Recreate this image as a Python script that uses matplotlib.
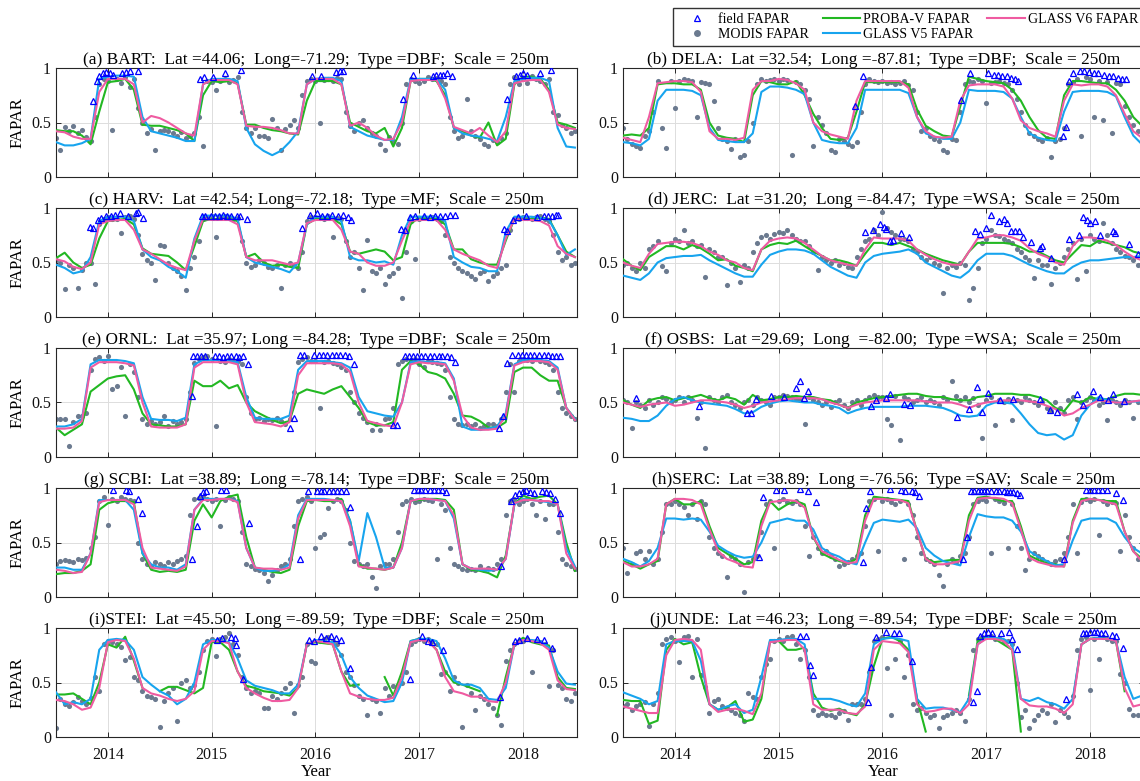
import numpy as np
import matplotlib.pyplot as plt
from matplotlib.lines import Line2D

nan = np.nan

# time axes (decimal year): lines monthly, MODIS half-monthly
line_t = 2013.5 + np.arange(61) / 12
modis_t = 2013.5 + np.arange(121) / 24

# ---------------- (a) BART ----------------
bart_green = [0.43, 0.42, 0.42, 0.38, 0.30, 0.60,
              0.87, 0.88, 0.90, 0.80, 0.48, 0.47, 0.47, 0.45, 0.43, 0.40, 0.33, 0.75,
              0.88, 0.87, 0.88, 0.86, 0.48, 0.48, 0.45, 0.43, 0.42, 0.40, 0.39, 0.70,
              0.88, 0.88, 0.88, 0.85, 0.50, 0.46, 0.42, 0.40, 0.45, 0.28, 0.45, 0.88,
              0.90, 0.90, 0.88, 0.75, 0.45, 0.42, 0.38, 0.36, 0.50, 0.29, 0.35, 0.85,
              0.92, 0.92, 0.90, 0.80, 0.50, 0.48, 0.45]
bart_v5 = [0.32, 0.29, 0.29, 0.31, 0.35, 0.90,
           0.92, 0.93, 0.93, 0.92, 0.55, 0.42, 0.40, 0.38, 0.36, 0.33, 0.33, 0.85,
           0.90, 0.90, 0.90, 0.88, 0.45, 0.30, 0.24, 0.20, 0.24, 0.32, 0.42, 0.85,
           0.90, 0.91, 0.91, 0.88, 0.46, 0.42, 0.38, 0.36, 0.34, 0.34, 0.55, 0.90,
           0.90, 0.90, 0.90, 0.80, 0.45, 0.40, 0.38, 0.37, 0.35, 0.33, 0.55, 0.88,
           0.90, 0.91, 0.91, 0.88, 0.45, 0.28, 0.27]
bart_v6 = [0.42, 0.41, 0.37, 0.35, 0.35, 0.78,
           0.90, 0.90, 0.90, 0.85, 0.50, 0.56, 0.54, 0.50, 0.45, 0.40, 0.38, 0.85,
           0.89, 0.89, 0.89, 0.85, 0.47, 0.46, 0.46, 0.45, 0.43, 0.40, 0.40, 0.85,
           0.90, 0.90, 0.90, 0.85, 0.47, 0.50, 0.45, 0.38, 0.34, 0.35, 0.50, 0.88,
           0.89, 0.89, 0.89, 0.72, 0.46, 0.43, 0.40, 0.45, 0.38, 0.32, 0.42, 0.86,
           0.88, 0.89, 0.89, 0.78, 0.48, 0.45, 0.44]
bart_modis = [0.36, 0.25, 0.46, 0.42, 0.47, 0.40, 0.43, 0.37, 0.33, 0.55, 0.85, 0.90,
              0.88, 0.43, 0.90, 0.86, 0.92, 0.83, 0.90, 0.63, 0.50, 0.40, 0.44, 0.25,
              0.42, 0.43, 0.42, 0.40, 0.38, 0.41, 0.36, 0.38, 0.40, 0.55, 0.28, 0.88,
              0.87, 0.80, 0.88, 0.90, 0.87, 0.89, 0.92, 0.60, 0.45, 0.40, 0.45, 0.38,
              0.38, 0.36, 0.53, 0.45, 0.25, 0.44, 0.48, 0.52, 0.45, 0.75, 0.88, 0.90,
              0.88, 0.50, 0.89, 0.90, 0.88, 0.91, 0.90, 0.60, 0.47, 0.42, 0.50, 0.52,
              0.45, 0.40, 0.38, 0.30, 0.25, 0.37, 0.33, 0.30, 0.50, 0.85, 0.90, 0.88,
              0.86, 0.88, 0.92, 0.90, 0.91, 0.88, 0.85, 0.55, 0.42, 0.36, 0.38, 0.72,
              0.42, 0.38, 0.35, 0.30, 0.28, 0.34, 0.32, 0.36, 0.40, 0.85, 0.92, 0.85,
              0.90, 0.86, 0.93, 0.90, 0.88, 0.85, 0.90, 0.60, 0.57, 0.48, 0.45, 0.40,
              0.42]
bart_field = [(2013.86, 0.70), (2013.895, 0.88), (2013.91, 0.93), (2013.95, 0.95), (2013.98, 0.96),
              (2014.02, 0.95), (2014.05, 0.94), (2014.14, 0.95), (2014.175, 0.96), (2014.21, 0.97),
              (2014.29, 0.97), (2014.89, 0.90), (2014.93, 0.92), (2015.01, 0.92), (2015.13, 0.95),
              (2015.28, 0.98), (2015.97, 0.93), (2016.05, 0.93), (2016.20, 0.96), (2016.24, 0.97),
              (2016.27, 0.97), (2016.84, 0.72), (2016.94, 0.94), (2017.13, 0.93), (2017.16, 0.94),
              (2017.20, 0.94), (2017.23, 0.94), (2017.27, 0.95), (2017.32, 0.93), (2017.85, 0.72),
              (2017.93, 0.93), (2017.97, 0.94), (2018.00, 0.95), (2018.04, 0.94), (2018.16, 0.95),
              (2018.27, 0.98)]

# ---------------- (b) DELA ----------------
dela_green = [0.38, 0.39, 0.38, 0.45, 0.85, 0.86,
              0.86, 0.85, 0.85, 0.80, 0.50, 0.38, 0.36, 0.35, 0.32, 0.75, 0.88, 0.87,
              0.85, 0.85, 0.88, 0.75, 0.58, 0.45, 0.35, 0.34, 0.36, 0.60, 0.87, 0.87,
              0.87, 0.87, 0.87, 0.85, 0.62, 0.47, 0.42, 0.38, 0.37, 0.65, 0.92, 0.90,
              0.88, 0.87, 0.86, 0.80, 0.70, 0.55, 0.43, 0.36, 0.35, 0.75, 0.88, 0.88,
              0.87, 0.86, 0.86, 0.80, 0.70, 0.55, 0.47]
dela_v5 = [0.32, 0.31, 0.29, 0.35, 0.70, 0.80,
           0.80, 0.80, 0.79, 0.75, 0.45, 0.34, 0.33, 0.32, 0.32, 0.40, 0.78, 0.83,
           0.83, 0.82, 0.80, 0.76, 0.50, 0.34, 0.32, 0.31, 0.31, 0.45, 0.80, 0.80,
           0.80, 0.80, 0.80, 0.77, 0.55, 0.40, 0.37, 0.35, 0.35, 0.50, 0.80, 0.79,
           0.79, 0.79, 0.78, 0.72, 0.55, 0.40, 0.36, 0.34, 0.33, 0.60, 0.78, 0.79,
           0.79, 0.79, 0.78, 0.74, 0.55, 0.38, 0.30]
dela_v6 = [0.36, 0.34, 0.32, 0.55, 0.86, 0.87,
           0.88, 0.88, 0.87, 0.78, 0.42, 0.35, 0.35, 0.34, 0.36, 0.80, 0.88, 0.88,
           0.90, 0.89, 0.86, 0.80, 0.50, 0.42, 0.39, 0.37, 0.35, 0.70, 0.88, 0.88,
           0.88, 0.88, 0.88, 0.82, 0.55, 0.42, 0.37, 0.36, 0.37, 0.70, 0.84, 0.85,
           0.85, 0.85, 0.83, 0.72, 0.52, 0.45, 0.42, 0.40, 0.37, 0.70, 0.85, 0.84,
           0.85, 0.85, 0.83, 0.75, 0.58, 0.42, 0.36]
dela_modis = [0.45, 0.35, 0.30, 0.28, 0.27, 0.38, 0.42, 0.60, 0.88, 0.45, 0.27, 0.88,
              0.63, 0.88, 0.90, 0.89, 0.88, 0.55, 0.87, 0.86, 0.85, 0.70, 0.45, 0.35,
              0.33, 0.26, 0.35, 0.18, 0.20, 0.33, 0.50, 0.85, 0.90, 0.88, 0.89, 0.90,
              0.88, 0.90, 0.89, 0.20, 0.87, 0.85, 0.80, 0.72, 0.28, 0.55, 0.48, 0.40,
              0.25, 0.23, 0.35, 0.33, 0.30, 0.28, 0.32, 0.60, 0.85, 0.90, 0.88, 0.87,
              0.88, 0.86, 0.87, 0.85, 0.86, 0.88, 0.84, 0.80, 0.60, 0.42, 0.45, 0.38,
              0.35, 0.33, 0.25, 0.23, 0.35, 0.34, 0.60, 0.85, 0.88, 0.87, 0.90, 0.88,
              0.68, 0.86, 0.87, 0.88, 0.86, 0.85, 0.80, 0.72, 0.60, 0.48, 0.40, 0.38,
              0.35, 0.33, 0.36, 0.18, 0.33, 0.35, 0.45, 0.85, 0.87, 0.90, 0.38, 0.92,
              0.90, 0.55, 0.88, 0.52, 0.87, 0.40, 0.86, 0.85, 0.65, 0.55, 0.48, 0.42,
              0.35]
dela_field = [(2015.74, 0.65), (2015.81, 0.93), (2016.76, 0.71), (2016.84, 0.95), (2017.02, 0.95),
              (2017.07, 0.94), (2017.11, 0.94), (2017.15, 0.93), (2017.20, 0.93), (2017.24, 0.91),
              (2017.28, 0.90), (2017.31, 0.88), (2017.74, 0.38), (2017.77, 0.46), (2017.80, 0.88),
              (2017.84, 0.95), (2017.90, 0.97), (2017.94, 0.97), (2017.99, 0.96), (2018.04, 0.95),
              (2018.08, 0.95), (2018.13, 0.94), (2018.18, 0.93), (2018.22, 0.93), (2018.27, 0.91),
              (2018.31, 0.90), (2018.35, 0.90)]

# ---------------- (c) HARV ----------------
harv_green = [0.54, 0.59, 0.50, 0.45, 0.48, 0.72,
              0.88, 0.89, 0.90, 0.85, 0.63, 0.58, 0.57, 0.56, 0.50, 0.43, 0.65, 0.88,
              0.90, 0.90, 0.90, 0.88, 0.55, 0.58, 0.50, 0.47, 0.48, 0.46, 0.45, 0.85,
              0.90, 0.90, 0.90, 0.85, 0.60, 0.58, 0.60, 0.62, 0.60, 0.52, 0.55, 0.85,
              0.92, 0.90, 0.90, 0.85, 0.62, 0.62, 0.53, 0.50, 0.48, 0.48, 0.70, 0.90,
              0.89, 0.90, 0.91, 0.90, 0.75, 0.60, 0.55]
harv_v5 = [0.48, 0.45, 0.40, 0.42, 0.55, 0.88,
           0.92, 0.92, 0.92, 0.88, 0.62, 0.55, 0.52, 0.46, 0.42, 0.36, 0.72, 0.93,
           0.93, 0.93, 0.93, 0.90, 0.55, 0.50, 0.48, 0.46, 0.44, 0.41, 0.50, 0.85,
           0.92, 0.92, 0.92, 0.88, 0.55, 0.52, 0.52, 0.50, 0.51, 0.48, 0.75, 0.92,
           0.92, 0.92, 0.92, 0.88, 0.55, 0.50, 0.46, 0.45, 0.42, 0.42, 0.78, 0.92,
           0.92, 0.92, 0.91, 0.89, 0.75, 0.57, 0.62]
harv_v6 = [0.53, 0.51, 0.46, 0.44, 0.50, 0.85,
           0.88, 0.89, 0.89, 0.80, 0.62, 0.58, 0.53, 0.48, 0.45, 0.43, 0.70, 0.90,
           0.89, 0.89, 0.89, 0.85, 0.55, 0.52, 0.52, 0.52, 0.50, 0.48, 0.50, 0.86,
           0.89, 0.89, 0.89, 0.80, 0.60, 0.58, 0.50, 0.47, 0.47, 0.50, 0.70, 0.88,
           0.89, 0.89, 0.89, 0.80, 0.62, 0.58, 0.55, 0.52, 0.47, 0.45, 0.72, 0.90,
           0.89, 0.89, 0.88, 0.84, 0.65, 0.58, 0.55]
harv_modis = [0.52, 0.50, 0.26, 0.48, 0.45, 0.27, 0.43, 0.50, 0.50, 0.30, 0.85, 0.90,
              0.92, 0.90, 0.90, 0.77, 0.92, 0.93, 0.90, 0.75, 0.58, 0.52, 0.50, 0.34,
              0.66, 0.65, 0.50, 0.45, 0.42, 0.38, 0.25, 0.45, 0.55, 0.70, 0.90, 0.92,
              0.93, 0.73, 0.92, 0.93, 0.92, 0.90, 0.91, 0.70, 0.50, 0.46, 0.48, 0.52,
              0.50, 0.46, 0.45, 0.48, 0.27, 0.48, 0.50, 0.48, 0.45, 0.60, 0.88, 0.92,
              0.92, 0.91, 0.90, 0.93, 0.73, 0.91, 0.90, 0.70, 0.55, 0.60, 0.45, 0.25,
              0.71, 0.42, 0.40, 0.45, 0.30, 0.38, 0.40, 0.45, 0.17, 0.60, 0.88, 0.53,
              0.90, 0.92, 0.91, 0.92, 0.90, 0.88, 0.75, 0.55, 0.50, 0.45, 0.42, 0.40,
              0.38, 0.35, 0.40, 0.42, 0.33, 0.38, 0.40, 0.45, 0.48, 0.80, 0.90, 0.90,
              0.92, 0.91, 0.90, 0.92, 0.93, 0.90, 0.88, 0.75, 0.60, 0.52, 0.55, 0.48,
              0.50]
harv_field = [(2013.83, 0.83), (2013.86, 0.82), (2013.90, 0.89), (2013.93, 0.91), (2013.98, 0.93),
              (2014.03, 0.93), (2014.07, 0.94), (2014.12, 0.95), (2014.19, 0.93), (2014.27, 0.95),
              (2014.29, 0.96), (2014.34, 0.91), (2014.91, 0.93), (2014.94, 0.93), (2014.99, 0.93),
              (2015.03, 0.93), (2015.07, 0.93), (2015.11, 0.94), (2015.15, 0.93), (2015.19, 0.93),
              (2015.24, 0.93), (2015.27, 0.93), (2015.34, 0.90), (2015.87, 0.82), (2015.95, 0.94),
              (2016.01, 0.95), (2016.06, 0.93), (2016.11, 0.93), (2016.16, 0.94), (2016.22, 0.93),
              (2016.27, 0.94), (2016.31, 0.92), (2016.34, 0.89), (2016.82, 0.81), (2016.86, 0.80),
              (2016.91, 0.92), (2016.96, 0.93), (2017.05, 0.93), (2017.10, 0.92), (2017.15, 0.93),
              (2017.20, 0.93), (2017.25, 0.93), (2017.30, 0.94), (2017.34, 0.94), (2017.82, 0.81),
              (2017.85, 0.79), (2017.90, 0.89), (2017.95, 0.92), (2018.03, 0.93), (2018.13, 0.92),
              (2018.20, 0.93), (2018.24, 0.93), (2018.28, 0.93), (2018.32, 0.94), (2018.34, 0.94)]

# ---------------- (d) JERC ----------------
jerc_green = [0.53, 0.47, 0.43, 0.55, 0.60, 0.65,
              0.65, 0.62, 0.66, 0.63, 0.58, 0.52, 0.53, 0.47, 0.45, 0.42, 0.62, 0.66,
              0.68, 0.67, 0.70, 0.65, 0.60, 0.56, 0.52, 0.52, 0.50, 0.47, 0.58, 0.68,
              0.68, 0.66, 0.68, 0.65, 0.62, 0.58, 0.55, 0.52, 0.50, 0.48, 0.60, 0.68,
              0.68, 0.68, 0.68, 0.67, 0.64, 0.60, 0.60, 0.56, 0.52, 0.50, 0.58, 0.66,
              0.65, 0.70, 0.68, 0.66, 0.64, 0.60, 0.58]
jerc_v5 = [0.38, 0.36, 0.34, 0.40, 0.50, 0.54,
           0.55, 0.56, 0.56, 0.57, 0.52, 0.48, 0.44, 0.40, 0.37, 0.37, 0.48, 0.57,
           0.60, 0.62, 0.62, 0.61, 0.58, 0.52, 0.46, 0.42, 0.38, 0.36, 0.50, 0.56,
           0.58, 0.59, 0.60, 0.62, 0.58, 0.50, 0.46, 0.42, 0.38, 0.36, 0.42, 0.52,
           0.58, 0.58, 0.58, 0.56, 0.52, 0.48, 0.45, 0.42, 0.40, 0.40, 0.46, 0.50,
           0.52, 0.52, 0.53, 0.54, 0.55, 0.55, 0.56]
jerc_v6 = [0.50, 0.47, 0.45, 0.58, 0.67, 0.68,
           0.69, 0.69, 0.68, 0.65, 0.60, 0.57, 0.52, 0.50, 0.45, 0.43, 0.62, 0.70,
           0.72, 0.73, 0.72, 0.68, 0.62, 0.56, 0.52, 0.50, 0.48, 0.47, 0.62, 0.73,
           0.72, 0.72, 0.72, 0.70, 0.62, 0.57, 0.53, 0.50, 0.48, 0.48, 0.60, 0.72,
           0.73, 0.75, 0.75, 0.73, 0.70, 0.63, 0.58, 0.55, 0.50, 0.48, 0.65, 0.73,
           0.73, 0.72, 0.70, 0.66, 0.60, 0.55, 0.52]
jerc_modis = [0.48, 0.50, 0.45, 0.42, 0.50, 0.45, 0.62, 0.65, 0.70, 0.47, 0.42, 0.68,
              0.72, 0.70, 0.80, 0.68, 0.70, 0.65, 0.66, 0.37, 0.62, 0.60, 0.55, 0.55,
              0.29, 0.50, 0.45, 0.32, 0.48, 0.45, 0.60, 0.68, 0.73, 0.75, 0.72, 0.76,
              0.78, 0.77, 0.80, 0.75, 0.72, 0.70, 0.70, 0.65, 0.60, 0.43, 0.55, 0.52,
              0.50, 0.52, 0.48, 0.50, 0.46, 0.45, 0.55, 0.62, 0.70, 0.72, 0.80, 0.75,
              0.96, 0.82, 0.78, 0.75, 0.72, 0.72, 0.70, 0.62, 0.60, 0.55, 0.52, 0.55,
              0.50, 0.48, 0.22, 0.45, 0.48, 0.46, 0.50, 0.48, 0.16, 0.27, 0.45, 0.68,
              0.72, 0.80, 0.75, 0.74, 0.72, 0.70, 0.68, 0.62, 0.60, 0.55, 0.52, 0.36,
              0.52, 0.48, 0.48, 0.30, 0.45, 0.50, 0.55, 0.62, 0.68, 0.35, 0.72, 0.42,
              0.75, 0.72, 0.70, 0.86, 0.75, 0.68, 0.62, 0.60, 0.56, 0.55, 0.52, 0.48,
              0.45]
jerc_field = [(2015.83, 0.78), (2015.91, 0.80), (2015.98, 0.85), (2016.01, 0.83), (2016.03, 0.81),
              (2016.07, 0.70), (2016.10, 0.71), (2016.18, 0.77), (2016.26, 0.73), (2016.89, 0.79),
              (2016.94, 0.76), (2017.00, 0.82), (2017.05, 0.94), (2017.12, 0.88), (2017.17, 0.90),
              (2017.20, 0.86), (2017.24, 0.79), (2017.28, 0.79), (2017.32, 0.79), (2017.35, 0.73),
              (2017.43, 0.69), (2017.52, 0.63), (2017.54, 0.65), (2017.62, 0.54), (2017.80, 0.72),
              (2017.89, 0.75), (2017.93, 0.92), (2017.97, 0.89), (2018.00, 0.86), (2018.05, 0.88),
              (2018.10, 0.75), (2018.22, 0.79), (2018.24, 0.77), (2018.38, 0.67), (2018.46, 0.58)]

# ---------------- (e) ORNL ----------------
ornl_green = [0.27, 0.20, 0.25, 0.30, 0.60, 0.66,
              0.72, 0.74, 0.75, 0.62, 0.40, 0.30, 0.29, 0.28, 0.28, 0.30, 0.70, 0.65,
              0.65, 0.70, 0.63, 0.66, 0.50, 0.42, 0.38, 0.34, 0.31, 0.33, 0.58, 0.62,
              0.60, 0.58, 0.62, 0.65, 0.55, 0.45, 0.32, 0.29, 0.29, 0.32, 0.80, 0.88,
              0.85, 0.78, 0.76, 0.72, 0.58, 0.38, 0.37, 0.33, 0.27, 0.27, 0.32, 0.78,
              0.82, 0.82, 0.75, 0.70, 0.70, 0.45, 0.35]
ornl_v5 = [0.28, 0.28, 0.30, 0.35, 0.85, 0.89,
           0.89, 0.89, 0.88, 0.86, 0.55, 0.35, 0.34, 0.34, 0.33, 0.36, 0.85, 0.89,
           0.89, 0.89, 0.88, 0.87, 0.55, 0.36, 0.35, 0.35, 0.35, 0.38, 0.80, 0.88,
           0.88, 0.88, 0.87, 0.86, 0.82, 0.55, 0.42, 0.40, 0.38, 0.37, 0.50, 0.87,
           0.88, 0.87, 0.87, 0.86, 0.72, 0.28, 0.25, 0.25, 0.26, 0.28, 0.40, 0.85,
           0.89, 0.90, 0.89, 0.88, 0.82, 0.45, 0.35]
ornl_v6 = [0.26, 0.26, 0.27, 0.33, 0.82, 0.87,
           0.87, 0.87, 0.86, 0.84, 0.50, 0.28, 0.27, 0.27, 0.27, 0.30, 0.82, 0.87,
           0.87, 0.87, 0.87, 0.85, 0.50, 0.32, 0.31, 0.30, 0.28, 0.32, 0.75, 0.86,
           0.86, 0.86, 0.86, 0.85, 0.78, 0.50, 0.33, 0.31, 0.29, 0.28, 0.50, 0.85,
           0.87, 0.86, 0.86, 0.85, 0.70, 0.38, 0.27, 0.25, 0.25, 0.26, 0.38, 0.84,
           0.87, 0.88, 0.88, 0.87, 0.80, 0.45, 0.34]
ornl_modis = [0.35, 0.35, 0.35, 0.10, 0.32, 0.38, 0.38, 0.40, 0.80, 0.90, 0.92, 0.88,
              0.93, 0.62, 0.65, 0.83, 0.38, 0.85, 0.78, 0.55, 0.35, 0.30, 0.33, 0.30,
              0.32, 0.38, 0.28, 0.33, 0.30, 0.32, 0.35, 0.60, 0.86, 0.90, 0.92, 0.93,
              0.90, 0.28, 0.88, 0.87, 0.90, 0.89, 0.88, 0.85, 0.55, 0.40, 0.35, 0.36,
              0.33, 0.35, 0.34, 0.36, 0.33, 0.30, 0.35, 0.60, 0.87, 0.90, 0.92, 0.88,
              0.88, 0.45, 0.87, 0.88, 0.86, 0.85, 0.83, 0.80, 0.60, 0.50, 0.40, 0.36,
              0.32, 0.25, 0.30, 0.25, 0.35, 0.36, 0.45, 0.85, 0.88, 0.90, 0.89, 0.90,
              0.85, 0.83, 0.88, 0.87, 0.86, 0.85, 0.80, 0.55, 0.35, 0.30, 0.29, 0.30,
              0.28, 0.30, 0.27, 0.28, 0.30, 0.30, 0.28, 0.35, 0.60, 0.85, 0.60, 0.88,
              0.90, 0.89, 0.88, 0.90, 0.88, 0.87, 0.85, 0.80, 0.60, 0.45, 0.40, 0.38,
              0.35]
ornl_field = [(2014.81, 0.56), (2014.82, 0.93), (2014.86, 0.93), (2014.90, 0.93), (2014.94, 0.93),
              (2015.03, 0.93), (2015.07, 0.93), (2015.11, 0.92), (2015.15, 0.93), (2015.19, 0.93),
              (2015.23, 0.93), (2015.26, 0.92), (2015.30, 0.93), (2015.35, 0.85), (2015.75, 0.27),
              (2015.79, 0.36), (2015.85, 0.94), (2015.89, 0.94), (2015.99, 0.94), (2016.03, 0.94),
              (2016.07, 0.94), (2016.11, 0.94), (2016.16, 0.94), (2016.20, 0.94), (2016.24, 0.94),
              (2016.28, 0.94), (2016.32, 0.93), (2016.37, 0.85), (2016.75, 0.29), (2016.79, 0.29),
              (2016.86, 0.93), (2016.90, 0.93), (2016.94, 0.93), (2016.98, 0.93), (2017.02, 0.93),
              (2017.06, 0.93), (2017.10, 0.93), (2017.14, 0.93), (2017.19, 0.93), (2017.22, 0.93),
              (2017.27, 0.93), (2017.31, 0.92), (2017.34, 0.87), (2017.77, 0.27), (2017.81, 0.38),
              (2017.85, 0.86), (2017.89, 0.94), (2017.95, 0.94), (2017.99, 0.94), (2018.03, 0.94),
              (2018.07, 0.94), (2018.11, 0.94), (2018.15, 0.94), (2018.20, 0.94), (2018.24, 0.94),
              (2018.28, 0.93), (2018.32, 0.93), (2018.36, 0.93)]

# ---------------- (f) OSBS ----------------
osbs_green = [0.52, 0.48, 0.45, 0.52, 0.54, 0.55,
              0.52, 0.54, 0.55, 0.57, 0.54, 0.52, 0.55, 0.53, 0.48, 0.57, 0.52, 0.53,
              0.55, 0.55, 0.56, 0.55, 0.55, 0.53, 0.52, 0.48, 0.45, 0.50, 0.52, 0.54,
              0.55, 0.56, 0.57, 0.58, 0.58, 0.56, 0.55, 0.55, 0.53, 0.52, 0.52, 0.55,
              0.56, 0.58, 0.58, 0.58, 0.57, 0.57, 0.55, 0.52, 0.45, 0.42, 0.52, 0.50,
              0.55, 0.53, 0.53, 0.56, 0.58, 0.58, 0.57]
osbs_v5 = [0.36, 0.35, 0.33, 0.33, 0.38, 0.47,
           0.53, 0.55, 0.52, 0.50, 0.49, 0.48, 0.47, 0.44, 0.40, 0.41, 0.46, 0.49,
           0.51, 0.52, 0.51, 0.50, 0.50, 0.48, 0.47, 0.45, 0.40, 0.43, 0.45, 0.46,
           0.46, 0.46, 0.46, 0.47, 0.47, 0.47, 0.46, 0.45, 0.42, 0.38, 0.37, 0.38,
           0.47, 0.50, 0.50, 0.49, 0.40, 0.30, 0.22, 0.20, 0.21, 0.16, 0.20, 0.38,
           0.48, 0.55, 0.52, 0.50, 0.50, 0.51, 0.51]
osbs_v6 = [0.50, 0.48, 0.46, 0.48, 0.49, 0.50,
           0.47, 0.48, 0.50, 0.52, 0.52, 0.51, 0.50, 0.48, 0.45, 0.47, 0.50, 0.51,
           0.52, 0.53, 0.54, 0.54, 0.54, 0.53, 0.50, 0.48, 0.45, 0.48, 0.50, 0.51,
           0.52, 0.52, 0.52, 0.52, 0.52, 0.51, 0.50, 0.50, 0.50, 0.48, 0.45, 0.48,
           0.50, 0.51, 0.52, 0.52, 0.52, 0.51, 0.50, 0.47, 0.44, 0.38, 0.40, 0.45,
           0.48, 0.52, 0.51, 0.50, 0.50, 0.51, 0.52]
osbs_modis = [0.52, 0.50, 0.27, 0.50, 0.48, 0.45, 0.52, 0.48, 0.50, 0.55, 0.53, 0.50,
              0.52, 0.55, 0.50, 0.55, 0.52, 0.36, 0.50, 0.08, 0.55, 0.52, 0.50, 0.55,
              0.57, 0.50, 0.48, 0.45, 0.50, 0.52, 0.48, 0.55, 0.52, 0.50, 0.48, 0.55,
              0.55, 0.57, 0.56, 0.55, 0.53, 0.52, 0.30, 0.55, 0.52, 0.50, 0.48, 0.50,
              0.46, 0.50, 0.52, 0.48, 0.45, 0.50, 0.52, 0.48, 0.52, 0.55, 0.57, 0.55,
              0.55, 0.35, 0.29, 0.56, 0.16, 0.55, 0.53, 0.50, 0.52, 0.55, 0.50, 0.52,
              0.50, 0.48, 0.55, 0.52, 0.70, 0.56, 0.52, 0.55, 0.50, 0.54, 0.48, 0.17,
              0.52, 0.55, 0.29, 0.52, 0.50, 0.53, 0.34, 0.52, 0.50, 0.55, 0.52, 0.50,
              0.48, 0.50, 0.45, 0.42, 0.50, 0.45, 0.40, 0.52, 0.55, 0.35, 0.50, 0.52,
              0.55, 0.52, 0.48, 0.50, 0.34, 0.52, 0.50, 0.48, 0.52, 0.50, 0.36, 0.50,
              0.52]
osbs_field = [(2013.63, 0.54), (2014.23, 0.47), (2014.69, 0.40), (2014.73, 0.40), (2014.78, 0.53),
              (2014.93, 0.56), (2015.05, 0.55), (2015.17, 0.63), (2015.21, 0.70), (2015.24, 0.54),
              (2015.28, 0.61), (2015.89, 0.47), (2015.94, 0.52), (2016.03, 0.54), (2016.07, 0.58),
              (2016.21, 0.49), (2016.27, 0.48), (2016.72, 0.37), (2016.83, 0.44), (2016.91, 0.64),
              (2016.96, 0.41), (2017.02, 0.59), (2017.13, 0.52), (2017.26, 0.53), (2017.52, 0.53),
              (2017.61, 0.43), (2017.68, 0.41), (2017.87, 0.58), (2017.93, 0.48), (2018.03, 0.61),
              (2018.10, 0.55), (2018.17, 0.52), (2018.22, 0.58), (2018.33, 0.51)]

# ---------------- (g) SCBI ----------------
scbi_green = [0.21, 0.22, 0.22, 0.24, 0.30, 0.80,
              0.86, 0.88, 0.88, 0.87, 0.40, 0.25, 0.23, 0.24, 0.23, 0.25, 0.70, 0.85,
              0.73, 0.88, 0.92, 0.94, 0.55, 0.27, 0.25, 0.23, 0.22, 0.25, 0.65, 0.88,
              0.89, 0.88, 0.88, 0.90, 0.70, 0.30, 0.26, 0.26, 0.25, 0.27, 0.50, 0.88,
              0.89, 0.90, 0.90, 0.89, 0.80, 0.30, 0.25, 0.24, 0.22, 0.18, 0.38, 0.85,
              0.93, 0.90, 0.92, 0.93, 0.85, 0.50, 0.24]
scbi_v5 = [0.27, 0.27, 0.25, 0.25, 0.40, 0.89,
           0.89, 0.89, 0.89, 0.80, 0.40, 0.30, 0.27, 0.27, 0.25, 0.30, 0.80, 0.90,
           0.90, 0.90, 0.90, 0.88, 0.45, 0.27, 0.24, 0.24, 0.25, 0.30, 0.75, 0.90,
           0.90, 0.90, 0.89, 0.88, 0.70, 0.33, 0.77, 0.55, 0.27, 0.27, 0.45, 0.88,
           0.90, 0.90, 0.89, 0.88, 0.72, 0.30, 0.26, 0.25, 0.24, 0.25, 0.35, 0.85,
           0.90, 0.89, 0.88, 0.87, 0.85, 0.45, 0.28]
scbi_v6 = [0.25, 0.24, 0.22, 0.23, 0.40, 0.87,
           0.89, 0.89, 0.89, 0.85, 0.45, 0.27, 0.26, 0.25, 0.24, 0.28, 0.80, 0.89,
           0.89, 0.90, 0.90, 0.87, 0.45, 0.27, 0.26, 0.26, 0.25, 0.27, 0.72, 0.89,
           0.89, 0.89, 0.89, 0.88, 0.65, 0.28, 0.27, 0.26, 0.25, 0.27, 0.45, 0.88,
           0.90, 0.90, 0.89, 0.88, 0.75, 0.30, 0.26, 0.26, 0.26, 0.25, 0.35, 0.86,
           0.89, 0.89, 0.88, 0.88, 0.85, 0.40, 0.26]
scbi_modis = [0.30, 0.33, 0.34, 0.33, 0.32, 0.35, 0.34, 0.36, 0.45, 0.55, 0.88, 0.92,
              0.66, 0.90, 0.88, 0.92, 0.90, 0.89, 0.88, 0.50, 0.35, 0.30, 0.28, 0.32,
              0.30, 0.28, 0.32, 0.30, 0.33, 0.35, 0.38, 0.75, 0.90, 0.91, 0.92, 0.90,
              0.88, 0.90, 0.65, 0.89, 0.92, 0.90, 0.88, 0.60, 0.30, 0.28, 0.26, 0.25,
              0.22, 0.15, 0.20, 0.25, 0.28, 0.30, 0.35, 0.65, 0.88, 0.90, 0.92, 0.88,
              0.45, 0.55, 0.58, 0.82, 0.88, 0.90, 0.88, 0.80, 0.50, 0.33, 0.30, 0.28,
              0.30, 0.18, 0.08, 0.28, 0.30, 0.30, 0.35, 0.60, 0.85, 0.88, 0.90, 0.87,
              0.88, 0.90, 0.89, 0.88, 0.35, 0.85, 0.80, 0.45, 0.30, 0.28, 0.26, 0.25,
              0.26, 0.25, 0.28, 0.25, 0.27, 0.26, 0.30, 0.35, 0.75, 0.88, 0.90, 0.85,
              0.88, 0.90, 0.85, 0.75, 0.88, 0.72, 0.85, 0.85, 0.60, 0.35, 0.30, 0.28,
              0.26]
scbi_field = [(2014.05, 0.98), (2014.17, 0.98), (2014.20, 0.97), (2014.29, 0.90), (2014.33, 0.77),
              (2014.81, 0.35), (2014.86, 0.65), (2014.89, 0.93), (2014.92, 0.96), (2014.95, 0.97),
              (2015.09, 0.98), (2015.14, 0.98), (2015.36, 0.68), (2015.85, 0.35), (2015.93, 0.97),
              (2016.01, 0.97), (2016.05, 0.97), (2016.08, 0.97), (2016.13, 0.97), (2016.17, 0.97),
              (2016.21, 0.97), (2016.25, 0.97), (2016.29, 0.97), (2016.33, 0.83), (2016.95, 0.98),
              (2016.99, 0.98), (2017.02, 0.98), (2017.06, 0.98), (2017.10, 0.98), (2017.14, 0.98),
              (2017.18, 0.98), (2017.22, 0.98), (2017.26, 0.96), (2017.79, 0.28), (2017.88, 0.88),
              (2017.92, 0.94), (2017.96, 0.95), (2018.00, 0.97), (2018.03, 0.98), (2018.07, 0.96),
              (2018.11, 0.95), (2018.18, 0.97), (2018.22, 0.96), (2018.26, 0.95), (2018.31, 0.90),
              (2018.36, 0.77)]

# ---------------- (h) SERC ----------------
serc_green = [0.33, 0.30, 0.26, 0.30, 0.33, 0.85,
              0.90, 0.85, 0.85, 0.88, 0.65, 0.45, 0.40, 0.35, 0.30, 0.32, 0.70, 0.88,
              0.80, 0.85, 0.88, 0.85, 0.55, 0.40, 0.36, 0.33, 0.31, 0.35, 0.75, 0.92,
              0.91, 0.90, 0.89, 0.88, 0.60, 0.35, 0.32, 0.33, 0.34, 0.34, 0.75, 0.91,
              0.92, 0.90, 0.88, 0.88, 0.65, 0.38, 0.34, 0.31, 0.30, 0.28, 0.70, 0.90,
              0.90, 0.89, 0.88, 0.88, 0.60, 0.42, 0.35]
serc_v5 = [0.35, 0.32, 0.28, 0.33, 0.45, 0.72,
           0.72, 0.71, 0.72, 0.71, 0.60, 0.47, 0.42, 0.38, 0.36, 0.37, 0.50, 0.68,
           0.70, 0.72, 0.70, 0.70, 0.62, 0.45, 0.40, 0.37, 0.32, 0.30, 0.50, 0.68,
           0.71, 0.70, 0.69, 0.71, 0.63, 0.45, 0.38, 0.33, 0.31, 0.29, 0.55, 0.76,
           0.74, 0.73, 0.73, 0.70, 0.60, 0.42, 0.37, 0.33, 0.29, 0.30, 0.52, 0.70,
           0.72, 0.72, 0.72, 0.68, 0.55, 0.45, 0.40]
serc_v6 = [0.32, 0.28, 0.28, 0.30, 0.35, 0.85,
           0.90, 0.90, 0.89, 0.85, 0.62, 0.42, 0.35, 0.32, 0.28, 0.27, 0.65, 0.87,
           0.88, 0.89, 0.88, 0.82, 0.55, 0.42, 0.38, 0.34, 0.31, 0.32, 0.70, 0.90,
           0.90, 0.89, 0.89, 0.86, 0.60, 0.35, 0.30, 0.30, 0.31, 0.33, 0.70, 0.90,
           0.91, 0.91, 0.90, 0.86, 0.62, 0.36, 0.32, 0.30, 0.28, 0.28, 0.68, 0.88,
           0.90, 0.89, 0.87, 0.85, 0.60, 0.42, 0.33]
serc_modis = [0.45, 0.22, 0.30, 0.40, 0.42, 0.35, 0.42, 0.30, 0.35, 0.60, 0.85, 0.85,
              0.88, 0.85, 0.83, 0.75, 0.85, 0.72, 0.88, 0.85, 0.55, 0.45, 0.40, 0.38,
              0.18, 0.38, 0.35, 0.30, 0.05, 0.32, 0.35, 0.38, 0.60, 0.85, 0.88, 0.45,
              0.88, 0.90, 0.87, 0.86, 0.88, 0.85, 0.65, 0.38, 0.55, 0.45, 0.40, 0.42,
              0.38, 0.35, 0.28, 0.30, 0.32, 0.35, 0.38, 0.40, 0.65, 0.88, 0.90, 0.42,
              0.88, 0.90, 0.87, 0.85, 0.88, 0.35, 0.85, 0.75, 0.55, 0.40, 0.35, 0.33,
              0.30, 0.20, 0.10, 0.30, 0.35, 0.32, 0.38, 0.40, 0.55, 0.85, 0.88, 0.90,
              0.88, 0.40, 0.90, 0.88, 0.86, 0.45, 0.85, 0.65, 0.45, 0.25, 0.35, 0.40,
              0.38, 0.35, 0.32, 0.30, 0.33, 0.35, 0.40, 0.55, 0.85, 0.40, 0.87, 0.90,
              0.88, 0.90, 0.57, 0.88, 0.85, 0.87, 0.86, 0.42, 0.75, 0.55, 0.45, 0.35,
              0.40]
serc_field = [(2014.81, 0.37), (2014.85, 0.92), (2014.97, 0.98), (2015.05, 0.98), (2015.21, 0.99),
              (2015.28, 0.97), (2015.36, 0.87), (2015.81, 0.32), (2015.84, 0.82), (2015.88, 0.97),
              (2016.07, 0.99), (2016.18, 0.98), (2016.22, 0.97), (2016.28, 0.97), (2016.31, 0.96),
              (2016.35, 0.93), (2016.78, 0.35), (2016.81, 0.55), (2016.85, 0.97), (2016.88, 0.97),
              (2016.92, 0.97), (2016.95, 0.97), (2016.98, 0.97), (2017.01, 0.97), (2017.05, 0.97),
              (2017.09, 0.97), (2017.12, 0.97), (2017.17, 0.97), (2017.20, 0.96), (2017.23, 0.96),
              (2017.26, 0.96), (2017.30, 0.95), (2017.33, 0.94), (2017.75, 0.35), (2017.96, 0.98),
              (2018.00, 0.98), (2018.04, 0.98), (2018.08, 0.98), (2018.12, 0.98), (2018.16, 0.98),
              (2018.25, 0.95), (2018.32, 0.89)]

# ---------------- (i) STEI ----------------
stei_green = [0.39, 0.39, 0.40, 0.35, 0.30, 0.50,
              0.85, 0.82, 0.92, 0.70, 0.45, nan, 0.42, 0.46, 0.46, 0.43, 0.40, 0.45,
              0.87, 0.87, 0.80, 0.60, 0.47, 0.45, 0.42, 0.41, 0.40, 0.38, 0.45, 0.85,
              0.87, 0.86, 0.85, 0.60, 0.47, 0.48, nan, nan, 0.55, 0.38, 0.60, 0.88,
              0.90, 0.89, 0.80, 0.60, 0.50, 0.48, 0.45, 0.42, nan, 0.20, 0.55, 0.85,
              0.91, 0.87, 0.85, 0.84, 0.55, 0.45, 0.44]
stei_v5 = [0.41, 0.30, 0.32, 0.30, 0.35, 0.80,
           0.89, 0.90, 0.89, 0.80, 0.55, 0.48, 0.42, 0.38, 0.30, 0.35, 0.50, 0.85,
           0.89, 0.89, 0.87, 0.72, 0.52, 0.47, 0.45, 0.43, 0.40, 0.40, 0.48, 0.85,
           0.89, 0.88, 0.87, 0.75, 0.55, 0.45, 0.38, 0.35, 0.32, 0.33, 0.50, 0.88,
           0.90, 0.90, 0.88, 0.72, 0.52, 0.48, 0.48, 0.45, 0.35, 0.34, 0.45, 0.85,
           0.89, 0.89, 0.88, 0.82, 0.60, 0.49, 0.48]
stei_v6 = [0.34, 0.33, 0.30, 0.25, 0.27, 0.45,
           0.87, 0.89, 0.88, 0.72, 0.45, 0.40, 0.38, 0.35, 0.33, 0.35, 0.42, 0.80,
           0.88, 0.88, 0.86, 0.60, 0.45, 0.40, 0.36, 0.33, 0.33, 0.34, 0.45, 0.85,
           0.88, 0.87, 0.85, 0.60, 0.40, 0.37, 0.35, 0.34, 0.34, 0.36, 0.55, 0.87,
           0.89, 0.88, 0.80, 0.55, 0.42, 0.40, 0.37, 0.37, 0.33, 0.32, 0.50, 0.85,
           0.89, 0.88, 0.86, 0.80, 0.52, 0.44, 0.43]
stei_modis = [0.08, 0.35, 0.30, 0.28, 0.32, 0.37, 0.33, 0.30, 0.36, 0.55, 0.42, 0.85,
              0.88, 0.87, 0.85, 0.83, 0.71, 0.73, 0.55, 0.52, 0.42, 0.38, 0.37, 0.35,
              0.09, 0.33, 0.40, 0.45, 0.15, 0.50, 0.52, 0.45, 0.48, 0.60, 0.80, 0.88,
              0.90, 0.74, 0.90, 0.92, 0.95, 0.85, 0.75, 0.55, 0.45, 0.40, 0.42, 0.40,
              0.27, 0.27, 0.38, 0.35, 0.40, 0.45, 0.50, 0.22, 0.48, 0.55, 0.85, 0.70,
              0.68, 0.88, 0.90, 0.92, 0.88, 0.85, 0.75, 0.60, 0.55, 0.48, 0.38, 0.35,
              0.20, 0.35, 0.33, 0.22, 0.45, 0.38, 0.47, 0.48, 0.50, 0.60, 0.85, 0.88,
              0.90, 0.88, 0.90, 0.88, 0.85, 0.58, 0.60, 0.42, 0.55, 0.50, 0.09, 0.48,
              0.40, 0.25, 0.38, 0.35, 0.30, 0.27, 0.20, 0.11, 0.70, 0.80, 0.85, 0.88,
              0.88, 0.90, 0.60, 0.88, 0.87, 0.85, 0.47, 0.80, 0.48, 0.45, 0.35, 0.33,
              0.40]
stei_field = [(2015.05, 0.89), (2015.10, 0.91), (2015.19, 0.92), (2015.22, 0.91), (2015.23, 0.84),
              (2015.30, 0.53), (2015.94, 0.89), (2015.99, 0.88), (2016.05, 0.93), (2016.10, 0.91),
              (2016.15, 0.93), (2016.20, 0.91), (2016.25, 0.89), (2016.33, 0.63), (2016.91, 0.53),
              (2017.03, 0.93), (2017.08, 0.88), (2017.12, 0.87), (2017.23, 0.80), (2017.78, 0.37),
              (2017.92, 0.88), (2017.96, 0.89), (2018.04, 0.91), (2018.13, 0.90), (2018.20, 0.89),
              (2018.28, 0.82)]

# ---------------- (j) UNDE ----------------
unde_green = [0.34, 0.33, 0.33, 0.12, 0.15, 0.80,
              0.90, 0.85, 0.87, 0.55, 0.30, 0.25, 0.27, 0.33, 0.14, 0.16, 0.35, 0.88,
              0.88, 0.80, 0.80, 0.82, 0.40, 0.27, 0.24, 0.26, 0.22, 0.20, 0.30, 0.65,
              0.90, 0.92, 0.88, 0.80, 0.35, 0.05, nan, nan, nan, nan, 0.38, 0.88,
              0.92, 0.90, 0.85, 0.80, 0.05, nan, nan, nan, nan, nan, 0.33, 0.85,
              0.90, 0.91, 0.90, 0.88, 0.42, nan, nan]
unde_v5 = [0.41, 0.38, 0.35, 0.30, 0.33, 0.85,
           0.88, 0.88, 0.88, 0.70, 0.30, 0.25, 0.28, 0.30, 0.22, 0.25, 0.55, 0.89,
           0.89, 0.90, 0.90, 0.85, 0.35, 0.35, 0.35, 0.33, 0.30, 0.28, 0.40, 0.85,
           0.90, 0.91, 0.90, 0.88, 0.35, 0.26, 0.27, 0.27, 0.25, 0.23, 0.35, 0.85,
           0.91, 0.91, 0.90, 0.85, 0.35, 0.33, 0.36, 0.32, 0.30, 0.26, 0.35, 0.85,
           0.90, 0.91, 0.90, 0.88, 0.55, 0.35, 0.38]
unde_v6 = [0.28, 0.26, 0.24, 0.22, 0.22, 0.75,
           0.89, 0.90, 0.89, 0.80, 0.30, 0.23, 0.25, 0.26, 0.24, 0.21, 0.40, 0.87,
           0.88, 0.89, 0.89, 0.80, 0.30, 0.25, 0.25, 0.25, 0.22, 0.21, 0.28, 0.80,
           0.88, 0.87, 0.86, 0.78, 0.30, 0.23, 0.24, 0.26, 0.26, 0.22, 0.30, 0.85,
           0.90, 0.90, 0.88, 0.80, 0.35, 0.29, 0.28, 0.28, 0.26, 0.22, 0.30, 0.85,
           0.90, 0.90, 0.90, 0.88, 0.45, 0.28, 0.30]
unde_modis = [0.28, 0.30, 0.25, 0.28, 0.30, 0.32, 0.10, 0.30, 0.40, 0.85, 0.90, 0.92,
              0.88, 0.69, 0.92, 0.93, 0.55, 0.90, 0.57, 0.46, 0.22, 0.33, 0.35, 0.28,
              0.27, 0.25, 0.22, 0.20, 0.15, 0.40, 0.37, 0.35, 0.55, 0.67, 0.72, 0.88,
              0.90, 0.88, 0.92, 0.93, 0.85, 0.72, 0.80, 0.55, 0.25, 0.20, 0.22, 0.20,
              0.20, 0.18, 0.22, 0.24, 0.16, 0.30, 0.30, 0.30, 0.35, 0.60, 0.88, 0.90,
              0.92, 0.63, 0.20, 0.72, 0.88, 0.55, 0.75, 0.30, 0.25, 0.27, 0.22, 0.18,
              0.20, 0.08, 0.18, 0.20, 0.22, 0.25, 0.22, 0.15, 0.35, 0.80, 0.90, 0.92,
              0.92, 0.93, 0.90, 0.91, 0.88, 0.88, 0.85, 0.50, 0.18, 0.25, 0.08, 0.16,
              0.20, 0.25, 0.22, 0.30, 0.14, 0.25, 0.22, 0.18, 0.38, 0.80, 0.90, 0.92,
              0.43, 0.90, 0.72, 0.92, 0.90, 0.88, 0.88, 0.58, 0.50, 0.26, 0.20, 0.20,
              0.30]
unde_field = [(2015.21, 0.93), (2015.26, 0.93), (2015.30, 0.66), (2015.33, 0.57), (2015.86, 0.32),
              (2015.89, 0.64), (2015.94, 0.92), (2016.03, 0.96), (2016.11, 0.95), (2016.16, 0.95),
              (2016.28, 0.70), (2016.87, 0.32), (2016.91, 0.42), (2016.94, 0.93), (2016.98, 0.95),
              (2017.02, 0.96), (2017.06, 0.95), (2017.14, 0.95), (2017.22, 0.96), (2017.25, 0.90),
              (2017.30, 0.81), (2017.77, 0.35), (2017.93, 0.95), (2017.96, 0.95), (2018.00, 0.96),
              (2018.04, 0.96), (2018.07, 0.96), (2018.11, 0.95), (2018.14, 0.95), (2018.21, 0.94),
              (2018.25, 0.93), (2018.32, 0.82)]

titles = ["(a) BART:  Lat =44.06;  Long=-71.29;  Type =DBF;  Scale = 250m",
          "(b) DELA:  Lat =32.54;  Long =-87.81;  Type =DBF;  Scale = 250m",
          "(c) HARV:  Lat =42.54; Long=-72.18;  Type =MF;  Scale = 250m",
          "(d) JERC:  Lat =31.20;  Long =-84.47;  Type =WSA;  Scale = 250m",
          "(e) ORNL:  Lat =35.97; Long =-84.28;  Type =DBF;  Scale = 250m",
          "(f) OSBS:  Lat =29.69;  Long  =-82.00;  Type =WSA;  Scale = 250m",
          "(g) SCBI:  Lat =38.89;  Long =-78.14;  Type =DBF;  Scale = 250m",
          "(h)SERC:  Lat =38.89;  Long =-76.56;  Type =SAV;  Scale = 250m",
          "(i)STEI:  Lat =45.50;  Long =-89.59;  Type =DBF;  Scale = 250m",
          "(j)UNDE:  Lat =46.23;  Long =-89.54;  Type =DBF;  Scale = 250m"]

panels = [
    (bart_field, bart_modis, bart_green, bart_v5, bart_v6),
    (dela_field, dela_modis, dela_green, dela_v5, dela_v6),
    (harv_field, harv_modis, harv_green, harv_v5, harv_v6),
    (jerc_field, jerc_modis, jerc_green, jerc_v5, jerc_v6),
    (ornl_field, ornl_modis, ornl_green, ornl_v5, ornl_v6),
    (osbs_field, osbs_modis, osbs_green, osbs_v5, osbs_v6),
    (scbi_field, scbi_modis, scbi_green, scbi_v5, scbi_v6),
    (serc_field, serc_modis, serc_green, serc_v5, serc_v6),
    (stei_field, stei_modis, stei_green, stei_v5, stei_v6),
    (unde_field, unde_modis, unde_green, unde_v5, unde_v6),
]

# colours
c_field = '#0000FF'
c_modis = '#6B7A8F'
c_green = '#22B822'
c_v5 = '#17A4EE'
c_v6 = '#EF5BA1'
c_axis = '#262626'

plt.rcParams['font.family'] = ['Liberation Serif', 'DejaVu Serif']

W, H = 1140, 781
fig = plt.figure(figsize=(W / 100, H / 100), dpi=100)

col_x = [56, 623]
ax_w, ax_h = 521, 109

for i, (field, modis, green, v5, v6) in enumerate(panels):
    r, c = divmod(i, 2)
    top = 68 + 140 * r
    ax = fig.add_axes([col_x[c] / W, 1 - (top + ax_h) / H, ax_w / W, ax_h / H])
    ft, fv = np.array(field).T
    ax.plot(modis_t, modis, 'o', ms=3.7, color=c_modis, mec='none', zorder=2)
    ax.plot(line_t, green, color=c_green, lw=1.5, zorder=3)
    ax.plot(line_t, v5, color=c_v5, lw=1.5, zorder=3)
    ax.plot(line_t, v6, color=c_v6, lw=1.5, zorder=3)
    ax.plot(ft, fv, '^', ms=4.3, mfc='none', mec=c_field, mew=0.9, zorder=4)

    ax.set_xlim(2013.5, 2018.52)
    ax.set_ylim(0, 1)
    ax.set_xticks([2014, 2015, 2016, 2017, 2018])
    ax.set_yticks([0, 0.5, 1])
    ax.set_yticklabels(['0', '0.5', '1'])
    ax.grid(True, color='#DDDDDD', lw=0.7)
    ax.set_axisbelow(True)
    ax.tick_params(direction='in', top=True, right=True, length=3.5, width=0.7,
                   color=c_axis, labelsize=11.5, labelcolor='#111111')
    ax.tick_params(axis='x', pad=7)
    for s in ax.spines.values():
        s.set_color(c_axis)
        s.set_linewidth(0.8)
    ax.set_title(titles[i], fontsize=12.4, pad=3)
    if c == 0:
        ax.set_ylabel('FAPAR', fontsize=12)
        ax.yaxis.set_label_coords(-0.058, 0.5)
    if r == 4:
        ax.set_xlabel('Year', fontsize=12)
        ax.xaxis.set_label_coords(0.5, -0.245)
    else:
        ax.tick_params(axis='x', labelbottom=False)

handles = [
    Line2D([], [], ls='none', marker='^', ms=4.3, mfc='none', mec=c_field, mew=0.9),
    Line2D([], [], ls='none', marker='o', ms=5, color=c_modis, mec='none'),
    Line2D([], [], color=c_green, lw=1.5),
    Line2D([], [], color=c_v5, lw=1.5),
    Line2D([], [], color=c_v6, lw=1.5),
]
labels = ['field FAPAR', 'MODIS FAPAR', 'PROBA-V FAPAR', 'GLASS V5 FAPAR', 'GLASS V6 FAPAR']
fig.legend(handles, labels, ncol=3, loc='upper left',
           bbox_to_anchor=(673 / W, 1 - 8 / H), fontsize=10,
           frameon=True, fancybox=False, edgecolor='#333333', framealpha=1,
           borderaxespad=0, borderpad=0.35, labelspacing=0.15,
           handlelength=2.7, handletextpad=0.2, columnspacing=1.0)

fig.savefig('out.png', dpi=100)
